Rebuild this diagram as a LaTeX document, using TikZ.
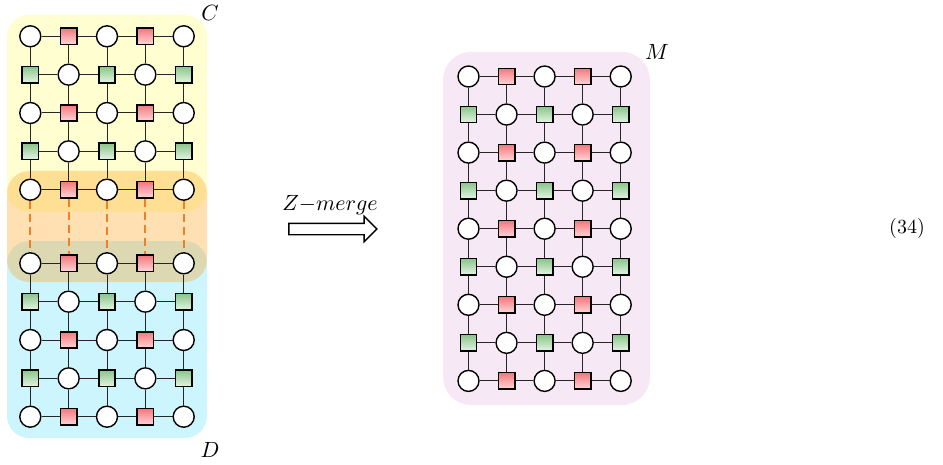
\documentclass[tikz,border=0pt]{standalone}
\usetikzlibrary{shapes.arrows,positioning}
\definecolor{qyellow}{RGB}{255,254,208}
\definecolor{qcyan}{RGB}{204,245,254}
\definecolor{qpink}{RGB}{247,232,246}
\definecolor{qorange}{RGB}{255,160,20}
\definecolor{qdash}{RGB}{240,128,40}
\definecolor{qred}{RGB}{242,120,125}
\definecolor{qredl}{RGB}{255,214,216}
\definecolor{qgreen}{RGB}{138,196,138}
\definecolor{qgreenl}{RGB}{228,245,228}
\tikzset{
  qubit/.style={circle,draw,fill=white,line width=0.7pt,minimum size=10.5pt,inner sep=0pt},
  xstab/.style={rectangle,draw,line width=0.75pt,minimum size=8.2pt,inner sep=0pt,top color=qred,bottom color=qredl},
  zstab/.style={rectangle,draw,line width=0.75pt,minimum size=8.2pt,inner sep=0pt,top color=qgreen,bottom color=qgreenl},
  bond/.style={line width=0.5pt,black!85},
  patch/.style={rounded corners=11pt},
  tag/.style={scale=1.1}
}
% #1 name, #2 last row, #3 x0, #4 y0, #5 spacing
\newcommand\lattice[5]{%
  \foreach \r in {0,...,#2}{
    \foreach \c in {0,...,4}{
      \pgfmathtruncatemacro\k{mod(\r+\c,2)==0 ? 0 : (mod(\r,2)==0 ? 1 : 2)}
      \ifcase\k \def\kind{qubit}\or \def\kind{xstab}\or \def\kind{zstab}\fi
      \node[\kind] (#1-\r-\c) at ({#3+\c*#5},{#4+\r*#5}) {};
    }
  }
  \foreach \r in {0,...,#2}{
    \foreach \c [count=\cn from 1] in {0,...,3}
      \draw[bond] (#1-\r-\c) -- (#1-\r-\cn);
  }
  \pgfmathtruncatemacro\rlast{#2-1}
  \foreach \r [count=\rn from 1] in {0,...,\rlast}{
    \foreach \c in {0,...,4}
      \draw[bond] (#1-\r-\c) -- (#1-\rn-\c);
  }
}
\begin{document}
\begin{tikzpicture}[x=0.5pt,y=-0.5pt]
  \useasboundingbox (0,0) rectangle (943,465);
  % patches
  \fill[qyellow,patch] (7,15) rectangle (207,212);
  \fill[qcyan,patch] (7,241) rectangle (207,438);
  \fill[qorange,opacity=0.32,patch] (7,171) rectangle (207,282);
  \fill[qpink,rounded corners=14pt] (443,52) rectangle (650,405);
  % lattices
  \lattice{c}{4}{30.3}{36.3}{38.35}
  \lattice{d}{4}{30.3}{263.3}{38.35}
  \lattice{m}{8}{468.5}{76.5}{38.05}
  \foreach \c in {0,...,4}
    \draw[qdash,dash pattern=on 4pt off 2.5pt,line width=0.9pt] (c-4-\c) -- (d-0-\c);
  % labels
  \node[tag] (lc) at (210,13) {$C$};
  \node[tag] (ld) at (210,450) {$D$};
  \node[tag] (lm) at (657,52) {$M$};
  \node[single arrow,draw,fill=white,line width=0.7pt,minimum height=44pt,inner sep=2.5pt,
        single arrow head extend=3.5pt] (zarrow) at (330,229) {};
  \node[tag,above=0pt of zarrow] (zlabel) {$Z{-}merge$};
  \node (eqno) at (907,229) {(34)};
\end{tikzpicture}
\end{document}
